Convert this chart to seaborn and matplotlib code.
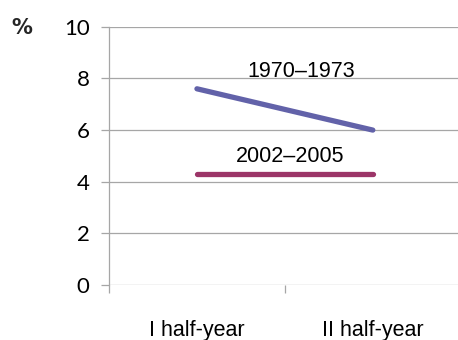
import matplotlib
matplotlib.use("Agg")
import matplotlib.pyplot as plt
import seaborn as sns
import pandas as pd
from matplotlib.ticker import FixedLocator

# Data
halves = ["I half-year", "II half-year"]
periods = ["1970\u20131973", "2002\u20132005"]
values_1970_1973 = [7.6, 6.0]
values_2002_2005 = [4.3, 4.3]
y_ticks = [0, 2, 4, 6, 8, 10]

df = pd.DataFrame({
    "half": halves * 2,
    "period": [periods[0]] * 2 + [periods[1]] * 2,
    "value": values_1970_1973 + values_2002_2005,
})

sns.set_theme(style="white")
plt.rcParams["font.family"] = ["Liberation Sans", "DejaVu Sans"]

fig = plt.figure(figsize=(4.58, 3.40), dpi=100)
ax = fig.add_axes([0.238, 0.162, 0.768, 0.759])

palette = {periods[0]: "#6262a9", periods[1]: "#9c3568"}
sns.lineplot(data=df, x="half", y="value", hue="period", palette=palette,
             linewidth=3.8, legend=False, ax=ax, solid_capstyle="round")

ax.set_xlim(-0.5, 1.5)
ax.set_ylim(0, 10)
ax.set_yticks(y_ticks)
ax.set_yticklabels([str(t) for t in y_ticks], fontsize=16, family=["Lato", "DejaVu Sans"])
ax.yaxis.grid(True, color="#a6a6a6", linewidth=0.9)
ax.set_axisbelow(True)

ax.set_xticks([0, 1])
ax.set_xticklabels(halves, fontsize=15.5)
ax.tick_params(axis="x", which="major", bottom=False, length=0, pad=25, colors="black")
ax.xaxis.set_minor_locator(FixedLocator([-0.5, 0.5, 1.5]))
ax.tick_params(axis="x", which="minor", bottom=True, length=6, width=0.9,
               color="#a6a6a6", direction="out")
ax.tick_params(axis="y", which="major", left=True, length=6, width=0.9, color="#a6a6a6",
               direction="out", pad=8, labelcolor="black")

for side in ["top", "right", "bottom"]:
    ax.spines[side].set_visible(False)
ax.spines["left"].set_color("#a6a6a6")
ax.spines["left"].set_linewidth(0.9)

ax.set_xlabel("")
ax.set_ylabel("")

# Series labels
ax.text(0.59, 8.26, periods[0], ha="center", va="center", fontsize=15.5, color="black")
ax.text(0.53, 4.96, periods[1], ha="center", va="center", fontsize=15.5, color="black")

# Unit label
fig.text(0.048, 0.918, "%", fontsize=15, fontweight="bold", family=["DejaVu Sans"],
         ha="center", va="center")

fig.savefig("out.png", dpi=100)
